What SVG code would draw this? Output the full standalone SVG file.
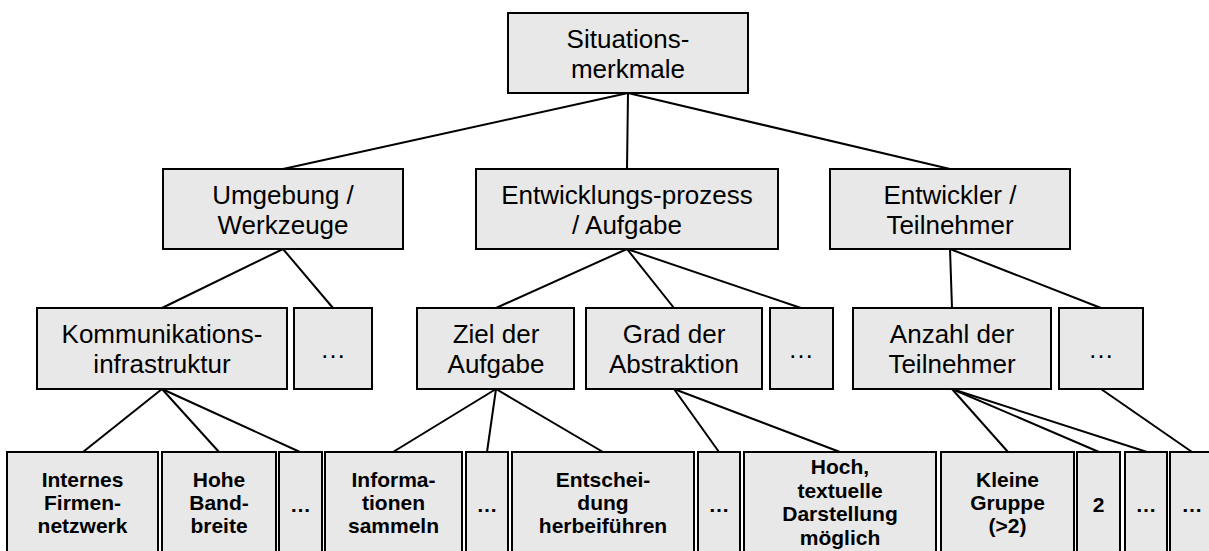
<svg xmlns="http://www.w3.org/2000/svg" width="1209" height="551" viewBox="0 0 1209 551">
  <style>
    .box { fill: #e8e8e8; stroke: #000; stroke-width: 2; }
    .lbl { font-family: "Liberation Sans", Arial, sans-serif; font-size: 26px; fill: #000; text-anchor: middle; }
    .leaf { font-family: "Liberation Sans", Arial, sans-serif; font-size: 21px; font-weight: bold; fill: #000; text-anchor: middle; }
    .edge { stroke: #000; stroke-width: 2; fill: none; }
  </style>
  <rect width="1209" height="551" fill="#fff"/>

  <!-- connectors -->
  <g id="connectors" class="edge">
    <line x1="628" y1="93" x2="283" y2="169"/>
    <line x1="628" y1="93" x2="627" y2="169"/>
    <line x1="628" y1="93" x2="950" y2="169"/>

    <line x1="283" y1="249" x2="162" y2="308"/>
    <line x1="283" y1="249" x2="333" y2="308"/>
    <line x1="627" y1="249" x2="496" y2="308"/>
    <line x1="627" y1="249" x2="674" y2="308"/>
    <line x1="627" y1="249" x2="801" y2="308"/>
    <line x1="950" y1="249" x2="952" y2="308"/>
    <line x1="950" y1="249" x2="1101" y2="308"/>

    <line x1="162" y1="389" x2="83" y2="452"/>
    <line x1="162" y1="389" x2="219" y2="452"/>
    <line x1="162" y1="389" x2="300" y2="452"/>
    <line x1="496" y1="389" x2="393" y2="452"/>
    <line x1="496" y1="389" x2="487" y2="452"/>
    <line x1="496" y1="389" x2="603" y2="452"/>
    <line x1="674" y1="389" x2="719" y2="452"/>
    <line x1="674" y1="389" x2="840" y2="452"/>
    <line x1="952" y1="389" x2="1008" y2="452"/>
    <line x1="952" y1="389" x2="1099" y2="452"/>
    <line x1="952" y1="389" x2="1147" y2="452"/>
    <line x1="1101" y1="389" x2="1192" y2="452"/>
  </g>

  <!-- level 1 -->
  <g id="situationsmerkmale">
    <rect class="box" x="508" y="13" width="240" height="80"/>
    <text class="lbl" x="628" y="48">Situations-</text>
    <text class="lbl" x="628" y="78">merkmale</text>
  </g>

  <!-- level 2 -->
  <g id="umgebung">
    <rect class="box" x="163" y="169" width="240" height="80"/>
    <text class="lbl" x="283" y="204">Umgebung /</text>
    <text class="lbl" x="283" y="234">Werkzeuge</text>
  </g>
  <g id="entwicklungsprozess">
    <rect class="box" x="476" y="169" width="302" height="80"/>
    <text class="lbl" x="627" y="204">Entwicklungs-prozess</text>
    <text class="lbl" x="627" y="234">/ Aufgabe</text>
  </g>
  <g id="entwickler">
    <rect class="box" x="830" y="169" width="240" height="80"/>
    <text class="lbl" x="950" y="204">Entwickler /</text>
    <text class="lbl" x="950" y="234">Teilnehmer</text>
  </g>

  <!-- level 3 -->
  <g id="kommunikation">
    <rect class="box" x="37" y="308" width="250" height="81"/>
    <text class="lbl" x="162" y="343">Kommunikations-</text>
    <text class="lbl" x="162" y="373">infrastruktur</text>
  </g>
  <g id="umgebung-more">
    <rect class="box" x="294" y="308" width="78" height="81"/>
    <text class="lbl" x="333" y="358">…</text>
  </g>
  <g id="ziel">
    <rect class="box" x="417" y="308" width="157" height="81"/>
    <text class="lbl" x="496" y="343">Ziel der</text>
    <text class="lbl" x="496" y="373">Aufgabe</text>
  </g>
  <g id="grad">
    <rect class="box" x="586" y="308" width="176" height="81"/>
    <text class="lbl" x="674" y="343">Grad der</text>
    <text class="lbl" x="674" y="373">Abstraktion</text>
  </g>
  <g id="prozess-more">
    <rect class="box" x="770" y="308" width="63" height="81"/>
    <text class="lbl" x="801" y="358">…</text>
  </g>
  <g id="anzahl">
    <rect class="box" x="853" y="308" width="198" height="81"/>
    <text class="lbl" x="952" y="343">Anzahl der</text>
    <text class="lbl" x="952" y="373">Teilnehmer</text>
  </g>
  <g id="entwickler-more">
    <rect class="box" x="1059" y="308" width="84" height="81"/>
    <text class="lbl" x="1101" y="358">…</text>
  </g>

  <!-- level 4 -->
  <g id="firmennetzwerk">
    <rect class="box" x="7" y="452" width="151" height="110"/>
    <text class="leaf" x="82.5" y="487">Internes</text>
    <text class="leaf" x="82.5" y="510">Firmen-</text>
    <text class="leaf" x="82.5" y="533">netzwerk</text>
  </g>
  <g id="bandbreite">
    <rect class="box" x="162" y="452" width="114" height="110"/>
    <text class="leaf" x="219" y="487">Hohe</text>
    <text class="leaf" x="219" y="510">Band-</text>
    <text class="leaf" x="219" y="533">breite</text>
  </g>
  <g id="infra-more">
    <rect class="box" x="279" y="452" width="43" height="110"/>
    <text class="leaf" x="300.5" y="512">…</text>
  </g>
  <g id="informationen">
    <rect class="box" x="325" y="452" width="137" height="110"/>
    <text class="leaf" x="393.5" y="487">Informa-</text>
    <text class="leaf" x="393.5" y="510">tionen</text>
    <text class="leaf" x="393.5" y="533">sammeln</text>
  </g>
  <g id="ziel-more">
    <rect class="box" x="466" y="452" width="42" height="110"/>
    <text class="leaf" x="487" y="512">…</text>
  </g>
  <g id="entscheidung">
    <rect class="box" x="512" y="452" width="182" height="110"/>
    <text class="leaf" x="603" y="487">Entschei-</text>
    <text class="leaf" x="603" y="510">dung</text>
    <text class="leaf" x="603" y="533">herbeiführen</text>
  </g>
  <g id="abstraktion-more">
    <rect class="box" x="698" y="452" width="42" height="110"/>
    <text class="leaf" x="719" y="512">…</text>
  </g>
  <g id="hoch">
    <rect class="box" x="744" y="452" width="192" height="110"/>
    <text class="leaf" x="840" y="474">Hoch,</text>
    <text class="leaf" x="840" y="497.5">textuelle</text>
    <text class="leaf" x="840" y="521">Darstellung</text>
    <text class="leaf" x="840" y="544.5">möglich</text>
  </g>
  <g id="kleine-gruppe">
    <rect class="box" x="941" y="452" width="133" height="110"/>
    <text class="leaf" x="1007.5" y="487">Kleine</text>
    <text class="leaf" x="1007.5" y="510">Gruppe</text>
    <text class="leaf" x="1007.5" y="533">(&gt;2)</text>
  </g>
  <g id="zwei">
    <rect class="box" x="1077" y="452" width="43" height="110"/>
    <text class="leaf" x="1098.5" y="512">2</text>
  </g>
  <g id="anzahl-more">
    <rect class="box" x="1125" y="452" width="42" height="110"/>
    <text class="leaf" x="1146" y="512">…</text>
  </g>
  <g id="last-more">
    <rect class="box" x="1170" y="452" width="44" height="110"/>
    <text class="leaf" x="1192" y="512">…</text>
  </g>
</svg>
